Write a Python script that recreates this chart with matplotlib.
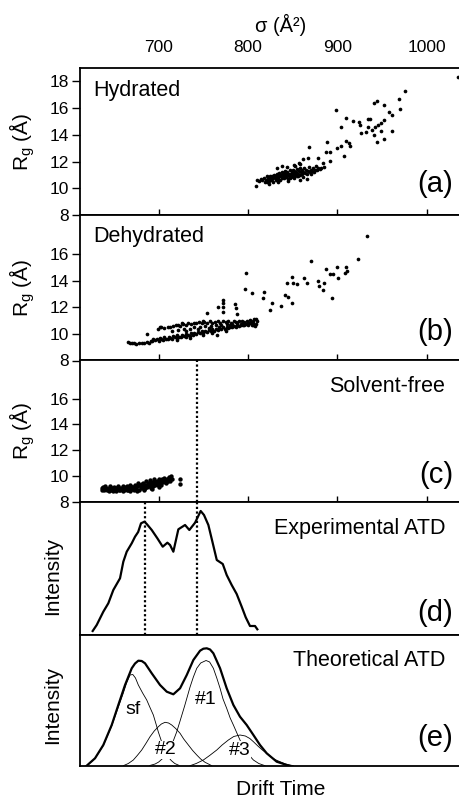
import matplotlib
matplotlib.use("Agg")
import matplotlib.pyplot as plt
import numpy as np

plt.rcParams['font.family'] = ['Liberation Sans', 'DejaVu Sans']
plt.rcParams['mathtext.fontset'] = 'custom'
plt.rcParams['mathtext.rm'] = 'Liberation Sans'
plt.rcParams['mathtext.it'] = 'Liberation Sans:italic'

# ---------------- data ----------------
sigma_ticks = [700, 800, 900, 1000]
rg_ticks_a = [8, 10, 12, 14, 16, 18]
rg_ticks_bc = [8, 10, 12, 14, 16]

# (a) Hydrated: dense cluster + sparse points (sigma, Rg)
hyd_sigma = [809, 810, 812, 814, 816, 818, 819, 820, 821, 822, 823, 824, 825, 826, 826, 827, 828, 828,
             829, 830, 830, 831, 832, 832, 833, 834, 834, 835, 836, 836, 837, 838, 838, 839, 840, 840,
             841, 842, 842, 843, 844, 844, 845, 846, 846, 847, 848, 848, 849, 850, 850, 851, 852, 852,
             853, 854, 855, 855, 856, 857, 858, 858, 859, 860, 860, 861, 862, 863, 864, 865, 866, 867,
             868, 869, 870, 871, 872, 873, 874, 875, 877, 878, 880, 882,
             824, 832, 838, 844, 853, 858, 845, 858, 866, 821, 827, 833, 839, 847, 851, 856,
             1034.5, 976, 969.5, 970, 944.5, 940.5, 952, 898, 957.5, 961, 910, 934.5, 937, 918, 924.5,
             952, 948.5, 945.5, 934.5, 942, 904, 925.5, 939, 932, 927, 949, 961.5, 940.5, 952, 944.5,
             868.5, 888.5, 904, 909.5, 914, 887.5, 891.5, 878.5, 907, 892, 885, 862, 867, 900, 913,
             857, 852, 876, 884]
hyd_rg = [10.15, 10.6, 10.55, 10.7, 10.6, 10.8, 10.5, 10.65, 10.9, 10.75, 10.55, 10.7, 10.95, 10.8, 10.6,
          10.7, 10.85, 10.5, 11.0, 10.75, 10.9, 10.6, 10.8, 11.1, 10.95, 10.7, 10.85, 11.15, 10.9, 10.65,
          11.0, 10.8, 11.2, 10.95, 11.05, 10.75, 11.3, 10.9, 11.1, 10.85, 11.0, 11.25, 10.7, 11.1, 10.95,
          11.35, 11.05, 10.85, 11.2, 11.0, 11.4, 11.15, 10.9, 11.3, 11.05, 11.2, 11.45, 10.95, 11.1, 11.3,
          11.0, 11.55, 11.2, 11.35, 11.1, 10.85, 11.25, 11.5, 11.15, 11.35, 11.05, 11.3, 11.6, 11.2, 11.4,
          11.1, 11.3, 11.5, 11.25, 11.4, 11.35, 11.55, 11.45, 11.5,
          10.35, 11.55, 11.7, 11.6, 11.7, 11.8, 10.55, 10.6, 10.7, 10.45, 10.95, 10.5, 11.15, 10.8, 10.75, 10.95,
          18.3, 17.3, 16.7, 15.9, 16.5, 16.35, 16.2, 15.85, 15.7, 15.45, 15.25, 15.2, 15.2, 15.0, 14.95,
          15.1, 14.9, 14.7, 14.55, 14.55, 14.6, 14.7, 14.35, 14.2, 14.15, 14.25, 14.25, 13.95, 13.7, 13.45,
          13.1, 13.45, 13.2, 13.5, 13.2, 12.75, 12.75, 12.3, 12.4, 12.05, 11.6, 12.2, 12.3, 13.05, 13.4,
          11.9, 11.75, 11.65, 11.9]

# (b) Dehydrated
dehyd_sigma = [666, 668, 670, 672, 675, 678, 681, 684, 687, 689, 691,
               692, 694, 696, 698, 700, 701, 703, 705, 706, 708, 710, 711, 713, 715, 716, 718, 720, 721,
               723, 725, 726, 728, 730, 731, 733, 735, 736, 738, 740, 742, 744, 746, 748, 750, 752, 754,
               756, 758, 760, 762, 764, 766, 768, 770, 772, 774, 776, 778, 780, 782, 784, 786, 788, 790,
               792, 794, 796, 798, 800, 802, 804, 806, 808, 809,
               699, 702, 706, 710, 713, 716, 719, 722, 724, 727, 730, 733, 736, 739, 742, 745, 748, 751,
               754, 757, 760, 763, 766, 769, 772, 775, 778, 781, 784, 787, 790, 793, 796, 799, 802, 805,
               807, 809, 810,
               715, 722, 728, 735, 740, 746, 752, 758, 764, 770, 776, 782, 788, 794, 800, 806, 730, 744,
               756, 768, 780, 792, 804, 720, 735, 750, 760, 775,
               932.8, 923.5, 870.2, 797.4, 887, 899.4, 909.4, 891.8, 895.5, 901, 909, 911, 848.9, 850.7,
               843.3, 854.5, 863, 865.7, 878, 879.9, 885.1, 884.3, 893.7, 796.6, 804.2, 817.9, 816.4, 841.4,
               845.1, 826.3, 848.9, 837, 824.6, 785.5, 786.2, 788.1, 771.6, 771.6, 771.6, 772.4, 766.8,
               753.8, 749.3, 765, 725.8, 702.6, 686.6]
dehyd_rg = [9.4, 9.35, 9.3, 9.3, 9.25, 9.35, 9.3, 9.3, 9.4, 9.35, 9.45,
            9.5, 9.6, 9.55, 9.65, 9.5, 9.7, 9.6, 9.55, 9.75, 9.65, 9.6, 9.8, 9.7, 9.65, 9.85, 9.75, 9.7, 9.9,
            9.8, 9.75, 9.95, 9.85, 9.8, 10.0, 9.9, 9.85, 10.05, 9.95, 10.1, 10.0, 10.15, 10.05, 10.2, 10.1,
            10.25, 10.15, 10.3, 10.2, 10.35, 10.25, 10.4, 10.3, 10.45, 10.35, 10.5, 10.4, 10.5, 10.45, 10.55,
            10.5, 10.6, 10.55, 10.65, 10.6, 10.7, 10.65, 10.7, 10.75, 10.65, 10.8, 10.7, 10.65, 10.6, 10.75,
            10.35, 10.5, 10.45, 10.55, 10.5, 10.6, 10.65, 10.7, 10.6, 10.75, 10.7, 10.8, 10.75, 10.85, 10.8,
            10.9, 10.85, 10.9, 10.8, 10.95, 10.85, 10.9, 10.95, 10.85, 10.95, 10.9, 10.95, 10.85, 11.0, 10.9,
            10.95, 11.0, 10.9, 11.0, 11.05, 10.95, 11.1, 11.15, 11.0,
            10.2, 10.3, 10.4, 10.35, 10.5, 10.55, 10.6, 10.6, 10.65, 10.7, 10.75, 10.75, 10.8, 10.8, 10.85,
            10.85, 10.2, 10.4, 10.45, 10.55, 10.65, 10.75, 10.9, 9.55, 9.7, 9.95, 10.05, 10.25,
            17.4, 15.65, 15.5, 14.57, 14.87, 15.05, 15.07, 14.5, 14.5, 14.2, 14.6, 14.7, 14.3, 13.8,
            13.85, 13.76, 14.19, 13.81, 14.01, 13.63, 13.81, 13.31, 12.68, 13.4, 13.06, 13.15, 12.73, 12.93,
            12.8, 12.3, 12.31, 12.13, 11.8, 12.23, 11.98, 11.48, 12.56, 12.31, 12.06, 11.67, 12.05,
            11.6, 10.97, 9.9, 10.8, 10.55, 9.97]

# (c) Solvent-free
sf_sigma = [636, 637, 638, 639, 640, 641, 642, 643, 644, 645, 646, 647, 648, 649, 650, 651, 652, 653,
            654, 655, 656, 657, 658, 659, 660, 661, 662, 663, 664, 665, 666, 667, 668, 669, 670, 671,
            672, 673, 674, 675, 676, 677, 678, 679, 680, 681, 682, 683, 684, 685, 686, 687, 688, 689,
            690, 691, 692, 693, 694, 695, 696, 697, 698, 699, 700, 701, 702, 703, 704, 705, 706, 707,
            708, 709, 710, 711, 712, 713, 714, 715,
            640, 645, 650, 655, 660, 665, 670, 675, 680, 685, 690, 695, 700, 705, 710,
            642, 648, 653, 658, 663, 668, 673, 678, 683, 688, 693, 698, 703, 708, 713,
            644, 652, 660, 668, 676, 684, 692, 700,
            724, 724]
sf_rg = [9.05, 8.95, 9.15, 8.95, 9.05, 9.1, 8.9, 9.0, 8.9, 9.1, 9.15, 8.95, 9.0, 8.85, 9.05, 9.1, 8.95,
         9.05, 9.2, 9.0, 8.9, 8.9, 9.1, 9.0, 9.25, 8.95, 9.1, 9.05, 9.2, 8.95, 8.9, 9.1, 9.3, 9.0, 9.15,
         9.15, 8.9, 9.35, 9.05, 9.25, 9.2, 9.45, 8.95, 9.3, 9.1, 9.4, 9.5, 9.2, 9.0, 9.35, 9.6, 9.15, 9.45,
         9.25, 9.7, 9.05, 9.4, 9.55, 9.2, 9.75, 9.35, 9.5, 9.65, 9.3, 9.8, 9.45, 9.6, 9.35, 9.75, 9.55,
         9.85, 9.65, 9.45, 9.8, 9.6, 9.9, 9.7, 9.85, 10.0, 9.75,
         9.2, 9.2, 9.15, 9.1, 9.05, 9.05, 9.0, 9.05, 9.25, 9.05, 9.45, 9.55, 9.6, 9.7, 9.75,
         9.0, 9.1, 9.05, 9.0, 9.15, 9.2, 9.15, 9.35, 9.3, 9.35, 9.3, 9.5, 9.55, 9.55, 9.65,
         8.85, 8.85, 8.85, 8.85, 8.85, 8.9, 9.0, 9.15,
         9.76, 9.43]

# (d) experimental ATD (sigma-equivalent drift, intensity a.u.)
exp_x = [626.1, 630.6, 638.0, 643.6, 649.2, 656.7, 660.4, 664.2, 669.8, 673.5, 677.0, 680.2, 684.0,
         686.6, 692.2, 698.5, 704.5, 709.7, 712.7, 716.4, 722.0, 729.5, 734.3, 740.7, 747.0, 750.7,
         755.6, 760.1, 765.0, 771.7, 776.1, 781.7, 787.3, 792.9, 797.4, 802.2, 807.8, 810.4]
exp_y = [4, 10, 23.3, 31.7, 45, 56.7, 73.3, 83.3, 91.7, 98.3, 103, 111.7, 113.3,
         111, 105, 96.7, 88.3, 92.3, 90, 83.3, 105.7, 110, 105, 112.3, 124, 120,
         110, 93.3, 75, 71, 60, 50, 41, 28.3, 17.7, 9, 9, 5.7]
dotted_c = 743.3
dotted_d = [684.5, 743.3]

# (e) theoretical ATD
tot_x = [619.4, 628.7, 638.0, 647.4, 654.8, 662.3, 669.8, 673.5, 677.2, 681.0, 684.7, 692.2, 701.5, 709.0,
         716.4, 723.9, 731.4, 738.8, 746.3, 750.0, 753.8, 757.5, 761.2, 768.7, 776.1, 783.6, 791.0,
         798.5, 806.0, 813.4, 820.9, 832.1, 843.3, 847.0]
tot_y = [0.3, 7.7, 21, 41, 61, 81, 97.7, 102.5, 105.3, 105, 102.7, 92.7, 81, 74.3,
         71.7, 77.7, 91, 106, 115.3, 117.3, 117.7, 116.5, 112.7, 97.7, 77.7, 61, 49.3,
         41, 31, 21, 12.7, 4.3, 1, 0]
csf_x = [619.4, 628.7, 638, 647.4, 654.8, 660, 664, 667.9, 671, 674, 677.2, 682, 686.6, 690, 694, 697,
         699.6, 703, 706, 710, 714, 718, 723]
csf_y = [0.3, 7.5, 20.5, 40, 59, 72, 83, 91, 91.5, 88, 81, 73, 66, 59, 51, 42, 34, 25, 17, 10, 5.5, 2.5, 0.5]
c2_x = [660.4, 666, 671.6, 676, 681, 686, 690.3, 695, 699.6, 703, 707.1, 711, 714.6, 719, 723.9, 728,
        733.2, 738, 742.6, 747, 751.9, 759.4]
c2_y = [0.3, 2.5, 6, 10.5, 16, 23, 29.3, 35, 39.3, 42, 43.7, 43, 41, 37.5, 32.7, 27, 21, 15.5, 11, 7, 3.7, 0.3]
c1_x = [690, 696, 700, 705, 710, 715, 720.1, 723.9, 729, 735.1, 738.8, 742.6, 747, 753, 757, 761.2, 765,
        768.7, 772, 776.1, 780, 783.6, 788, 792, 797, 802, 806, 812, 819]
c1_y = [0.5, 2, 4, 8, 14, 22, 34, 45, 60, 79, 89, 97.7, 103, 105.5, 104, 97.7, 88, 77.7, 67, 57.7, 48, 41,
        32, 24, 16, 10, 6, 2.5, 0.3]
c3_x = [735.1, 742, 750, 757, 765, 771, 778, 784, 791, 797, 802, 806, 811, 816, 821, 826, 830, 835.8,
        842, 850.7]
c3_y = [0.3, 2.5, 6, 10.5, 16, 21, 26, 29.5, 31, 30, 27.5, 24.3, 20, 16, 12.5, 9, 6.5, 4.3, 2, 0.3]
comp_labels = ['sf', '#1', '#2', '#3']
comp_label_x = [671.6, 753.0, 708.2, 790.3]
comp_label_y = [56, 66, 16, 15.3]

panel_titles = ['Hydrated', 'Dehydrated', 'Solvent-free', 'Experimental ATD', 'Theoretical ATD']
panel_tags = ['(a)', '(b)', '(c)', '(d)', '(e)']

# ---------------- layout ----------------
W, H = 459, 798
fig = plt.figure(figsize=(W / 100, H / 100), dpi=100)

left_px, right_px = 80, 482
xlim = (611.9, 1061.9)
bounds = [(68, 215), (215, 360.5), (360.5, 502), (502, 635), (635, 766)]
axes = []
for top, bot in bounds:
    ax = fig.add_axes([left_px / W, (H - bot) / H, (right_px - left_px) / W, (bot - top) / H])
    ax.set_xlim(*xlim)
    for s in ax.spines.values():
        s.set_linewidth(1.3)
    axes.append(ax)

ax_a, ax_b, ax_c, ax_d, ax_e = axes
ylims = [(8, 19.0), (8, 18.95), (8, 18.95), (0, 133), (0, 131)]
for ax, yl in zip(axes, ylims):
    ax.set_ylim(*yl)

ms = 7
ax_a.scatter(hyd_sigma, hyd_rg, s=ms, c='k', linewidths=0, zorder=3)
ax_b.scatter(dehyd_sigma, dehyd_rg, s=ms, c='k', linewidths=0, zorder=3)
ax_c.scatter(sf_sigma, sf_rg, s=ms + 3, c='k', linewidths=0, zorder=3)

tick_fs = 12.5
# Rg axes ticks
for ax, yt in zip([ax_a, ax_b, ax_c], [rg_ticks_a, rg_ticks_bc, rg_ticks_bc]):
    ax.set_yticks(yt)
    ax.tick_params(axis='y', direction='out', length=5.5, width=1.0, pad=2.5, labelsize=tick_fs)
    ax.set_xticks(sigma_ticks)
    ax.tick_params(axis='x', direction='in', length=4.5, width=1.0, bottom=True, top=False,
                   labelbottom=False, labeltop=False)

ax_a.tick_params(axis='x', labeltop=True, labelsize=tick_fs, pad=9)
ax_a.set_xticklabels([str(t) for t in sigma_ticks])
ax_a.xaxis.set_label_position('top')
ax_a.set_xlabel('σ (Å²)', fontsize=14.5, labelpad=6)

for ax in [ax_d, ax_e]:
    ax.set_xticks([])
    ax.set_yticks([])

# dotted lines
dot_style = dict(color='k', linewidth=1.6, linestyle=(0, (1, 1.1)), dash_capstyle='butt', zorder=2)
ax_c.axvline(dotted_c, **dot_style)
for xv in dotted_d:
    ax_d.axvline(xv, **dot_style)

# ATD curves
ax_d.plot(exp_x, exp_y, color='k', lw=1.6, zorder=3)
ax_e.plot(tot_x, tot_y, color='k', lw=1.6, zorder=3)
for cx, cy in [(csf_x, csf_y), (c1_x, c1_y), (c2_x, c2_y), (c3_x, c3_y)]:
    ax_e.plot(cx, cy, color='k', lw=0.6, zorder=2)
for lab, lx, ly in zip(comp_labels, comp_label_x, comp_label_y):
    ax_e.text(lx, ly, lab, fontsize=14, ha='center', va='center', zorder=4,
              bbox=dict(facecolor='white', edgecolor='none', pad=0.5))

ax_e.set_xlabel('Drift Time', fontsize=15, labelpad=10)

# panel titles and tags (axes fractions)
def fx(px):
    return (px - left_px) / (right_px - left_px)

title_pos = [(fx(93.3), 0.850, 'left'), (fx(93.3), 0.851, 'left'), (fx(445), 0.815, 'right'),
             (fx(445), 0.802, 'right'), (fx(445), 0.809, 'right')]
tag_y = [0.209, 0.198, 0.191, 0.163, 0.211]
for ax, t, (tx, ty, ha), tg, gy in zip(axes, panel_titles, title_pos, panel_tags, tag_y):
    ax.text(tx, ty, t, transform=ax.transAxes, fontsize=15.5, ha=ha, va='center')
    ax.text(fx(453), gy, tg, transform=ax.transAxes, fontsize=21, ha='right', va='center')

# y labels
rg_label = 'R$_\\mathregular{g}$ (Å)'
for (top, bot), ax in zip(bounds[:3], [ax_a, ax_b, ax_c]):
    fig.text(22 / W, 1 - ((top + bot) / 2) / H, rg_label, rotation=90, ha='center', va='center',
             fontsize=15)
for yc in [576, 705]:
    fig.text(53 / W, 1 - yc / H, 'Intensity', rotation=90, ha='center', va='center', fontsize=15)

fig.savefig('out.png', dpi=100)
